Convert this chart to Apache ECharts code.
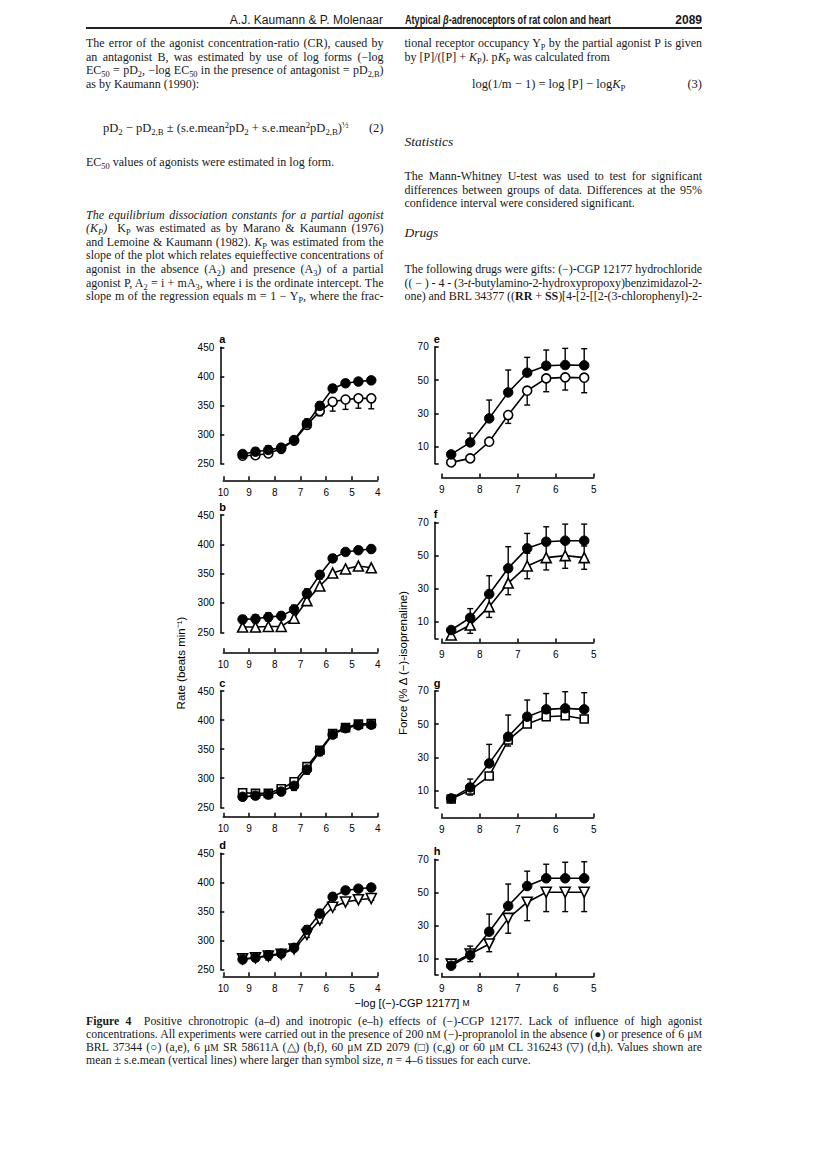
<!DOCTYPE html>
<html><head><meta charset="utf-8">
<script src="https://cdn.jsdelivr.net/npm/echarts@6/dist/echarts.min.js"></script>
<style>
html,body{margin:0;padding:0;background:#fff}
body{width:816px;height:1157px;position:relative;overflow:hidden;color:#181818;font-family:"Liberation Serif","Times New Roman",serif}
#chart{position:absolute;left:0;top:0;width:816px;height:1157px}
.t{position:absolute;white-space:nowrap;font-size:12px;line-height:14px;height:14px}
.cap{font-size:11.8px}
sub{font-size:70%;vertical-align:-0.3em;line-height:0}
sup{font-size:70%;vertical-align:0.45em;line-height:0}
.sc{font-size:80%}
.hd{font-family:"Liberation Sans",Arial,sans-serif;font-size:12px}
.cond{transform:scaleX(0.76);transform-origin:left center}
.rule{position:absolute;left:86px;top:27px;width:616px;height:1.5px;background:#222}
</style></head><body>
<div id="chart"></div>

<div class="t hd" style="right:433px;top:12.5px">A.J. Kaumann &amp; P. Molenaar</div>
<div class="t hd cond" style="left:405px;top:12.5px;font-weight:bold">Atypical <i>β</i>-adrenoceptors of rat colon and heart</div>
<div class="t hd" style="right:114px;top:12.5px;font-weight:bold">2089</div>
<div class="rule"></div>

<div class="t j" data-w="297.5" style="left:86px;top:36px">The error of the agonist concentration-ratio (CR), caused by</div>
<div class="t j" data-w="297.5" style="left:86px;top:49.6px">an antagonist B, was estimated by use of log forms (−log</div>
<div class="t j" data-w="297.5" style="left:86px;top:63.2px">EC<sub>50</sub> = pD<sub>2</sub>, −log EC<sub>50</sub> in the presence of antagonist = pD<sub>2,B</sub>)</div>
<div class="t" style="left:86px;top:76.8px">as by Kaumann (1990):</div>
<div class="t" style="left:103px;top:121px;font-size:12.5px">pD<sub>2</sub> − pD<sub>2,B</sub> ± (s.e.mean<sup>2</sup>pD<sub>2</sub> + s.e.mean<sup>2</sup>pD<sub>2,B</sub>)<sup>½</sup></div>
<div class="t" style="right:432.5px;top:121px;font-size:12.5px">(2)</div>
<div class="t" style="left:86px;top:155px">EC<sub>50</sub> values of agonists were estimated in log form.</div>
<div class="t j" data-w="297.5" style="left:86px;top:207.5px"><i>The equilibrium dissociation constants for a partial agonist</i></div>
<div class="t j" data-w="297.5" style="left:86px;top:221.1px"><i>(K<sub>P</sub>)</i>&nbsp; K<sub>P</sub> was estimated as by Marano &amp; Kaumann (1976)</div>
<div class="t j" data-w="297.5" style="left:86px;top:234.7px">and Lemoine &amp; Kaumann (1982). <i>K</i><sub>P</sub> was estimated from the</div>
<div class="t j" data-w="297.5" style="left:86px;top:248.3px">slope of the plot which relates equieffective concentrations of</div>
<div class="t j" data-w="297.5" style="left:86px;top:261.9px">agonist in the absence (A<sub>2</sub>) and presence (A<sub>3</sub>) of a partial</div>
<div class="t j" data-w="297.5" style="left:86px;top:275.5px">agonist P, A<sub>2</sub> = i + mA<sub>3</sub>, where i is the ordinate intercept. The</div>
<div class="t j" data-w="297.5" style="left:86px;top:289.1px">slope m of the regression equals m = 1 − Y<sub>P</sub>, where the frac-</div>

<div class="t j" data-w="297.5" style="left:404.5px;top:36px">tional receptor occupancy Y<sub>P</sub> by the partial agonist P is given</div>
<div class="t" style="left:404.5px;top:49.6px">by [P]/([P] + <i>K</i><sub>P</sub>). p<i>K</i><sub>P</sub> was calculated from</div>
<div class="t" style="left:472px;top:76.8px;font-size:12.5px">log(1/m − 1) = log [P] − log<i>K</i><sub>P</sub></div>
<div class="t" style="right:114px;top:76.8px;font-size:12.5px">(3)</div>
<div class="t" style="left:404.5px;top:135px;font-size:13.5px"><i>Statistics</i></div>
<div class="t j" data-w="297.5" style="left:404.5px;top:169px">The Mann-Whitney U-test was used to test for significant</div>
<div class="t j" data-w="297.5" style="left:404.5px;top:182.6px">differences between groups of data. Differences at the 95%</div>
<div class="t" style="left:404.5px;top:196.2px">confidence interval were considered significant.</div>
<div class="t" style="left:404.5px;top:226px;font-size:13.5px"><i>Drugs</i></div>
<div class="t j" data-w="297.5" style="left:404.5px;top:261.9px">The following drugs were gifts: (−)-CGP 12177 hydrochloride</div>
<div class="t j" data-w="297.5" style="left:404.5px;top:275.5px">(( − ) - 4 - (3-<i>t</i>-butylamino-2-hydroxypropoxy)benzimidazol-2-</div>
<div class="t j" data-w="297.5" style="left:404.5px;top:289.1px">one) and BRL 34377 ((<b>RR</b> + <b>SS</b>)[4-[2-[[2-(3-chlorophenyl)-2-</div>

<div class="t cap j" data-w="616" style="left:86px;top:1013.7px"><b>Figure 4</b>&nbsp; Positive chronotropic (a–d) and inotropic (e–h) effects of (−)-CGP 12177. Lack of influence of high agonist</div>
<div class="t cap j" data-w="616" style="left:86px;top:1026.7px">concentrations. All experiments were carried out in the presence of 200 n<span class="sc">M</span> (−)-propranolol in the absence (●) or presence of 6 μ<span class="sc">M</span></div>
<div class="t cap j" data-w="616" style="left:86px;top:1039.7px">BRL 37344 (○) (a,e), 6 μ<span class="sc">M</span> SR 58611A (△) (b,f), 60 μ<span class="sc">M</span> ZD 2079 (□) (c,g) or 60 μ<span class="sc">M</span> CL 316243 (▽) (d,h). Values shown are</div>
<div class="t cap" style="left:86px;top:1052.7px">mean ± s.e.mean (vertical lines) where larger than symbol size, <i>n</i> = 4–6 tissues for each curve.</div>

<script>
// ---------- data ----------
const xLeft  = [9.25, 8.75, 8.25, 7.75, 7.25, 6.75, 6.25, 5.75, 5.25, 4.75, 4.25];
const xRight = [8.75, 8.25, 7.75, 7.25, 6.75, 6.25, 5.75, 5.25];
const rateTicks  = [250, 300, 350, 400, 450];
const forceTicks = [10, 30, 50, 70];

// a: control (filled) vs BRL 37344 (open circle)
const ctrlA    = [266, 270, 273, 277, 290, 319, 349, 379, 388, 391, 393];
const ctrlASe  = [5, 6, 7, 6, 6, 7, 7, 6, 5, 4, 5];
const brlA     = [263, 264, 267, 275, 289, 316, 340, 356, 360, 362, 362];
const brlASe   = [4, 5, 5, 4, 5, 6, 8, 16, 17, 17, 18];
// b: control vs SR 58611A (triangle)
const ctrlB    = [272, 273, 276, 278, 289, 316, 348, 376, 387, 390, 392];
const ctrlBSe  = [6, 7, 7, 6, 7, 8, 7, 6, 5, 5, 6];
const srB      = [259, 259, 260, 260, 274, 304, 329, 351, 358, 363, 360];
const srBSe    = [4, 4, 5, 5, 5, 6, 5, 4, 4, 4, 6];
// c: control vs ZD 2079 (square)
const ctrlC    = [268, 270, 272, 277, 287, 315, 346, 375, 386, 391, 392];
const ctrlCSe  = [6, 6, 7, 6, 8, 8, 7, 6, 5, 5, 6];
const zdC      = [275, 274, 274, 282, 294, 320, 348, 377, 387, 393, 394];
const zdCSe    = [4, 4, 4, 4, 5, 5, 5, 4, 4, 4, 4];
// d: control vs CL 316243 (inverted triangle)
const ctrlD    = [267, 270, 274, 277, 287, 318, 346, 375, 386, 389, 391];
const ctrlDSe  = [5, 6, 8, 6, 6, 7, 7, 6, 5, 5, 6];
const clD      = [268, 270, 273, 276, 285, 310, 335, 357, 366, 370, 372];
const clDSe    = [4, 4, 4, 4, 4, 5, 5, 4, 3, 3, 3];
// e: force, control vs BRL 37344
const ctrlE    = [5.4, 12.6, 27, 42.6, 54.4, 58.6, 59, 58.8];
const ctrlESe  = [1.5, 5.6, 11, 13.4, 9.2, 9.4, 10, 10];
const brlE     = [0.6, 3, 13, 29, 43.6, 51, 51.6, 51.4];
const brlESe   = [1, 1.5, 2, 5, 8.6, 8, 7.6, 9];
// f: force, control vs SR 58611A
const ctrlF    = [5.1, 12.5, 26.8, 42.3, 54.3, 58.3, 58.9, 58.9];
const ctrlFSe  = [1.5, 5.5, 11, 13, 9, 9, 10, 10];
const srF      = [2.1, 8.1, 19.2, 33.4, 43.7, 48.7, 49.9, 48.7];
const srFSe    = [1.5, 5, 6.5, 7, 7.7, 7.4, 7.6, 7];
// g: force, control vs ZD 2079
const ctrlG    = [5.4, 12, 26.4, 42.4, 54.4, 58.8, 59.4, 58.8];
const ctrlGSe  = [1.5, 5, 11.4, 13, 10, 9.5, 10, 10];
const zdG      = [5, 10.4, 18.8, 40.4, 50, 54.4, 55, 53];
const zdGSe    = [1, 3, 2, 3.6, 2, 2, 2, 2];
// h: force, control vs CL 316243
const ctrlH    = [5.5, 12, 26.1, 41.7, 53.8, 58.5, 58.5, 58.5];
const ctrlHSe  = [1.5, 5.4, 10.7, 13.3, 9, 8.5, 9.7, 10];
const clH      = [6.5, 12.6, 18.7, 34.2, 44, 50, 50, 50];
const clHSe    = [1.5, 4.6, 4.7, 9, 11.2, 11.7, 11.7, 11.7];

// ---------- layout ----------
const LEFT  = {left: 223.3, width: 154.4, yOff: 3, xs: xLeft, min: 4, max: 10};
const RIGHT = {left: 441.7, width: 152, yOff: 7, xs: xRight, min: 5, max: 9};
const panels = [
  {k:'a', S:LEFT,  top:347.3, h:116,   xOff:17,  c:ctrlA, cs:ctrlASe, t:brlA, ts:brlASe, sym:'circle',   size:9,  rot:0,   cDir:'both', tDir:'down'},
  {k:'b', S:LEFT,  top:515,   h:117.3, xOff:20,  c:ctrlB, cs:ctrlBSe, t:srB,  ts:srBSe,  sym:'triangle', size:10, rot:0,   cDir:'both', tDir:'down'},
  {k:'c', S:LEFT,  top:691,   h:116.3, xOff:9.5, c:ctrlC, cs:ctrlCSe, t:zdC,  ts:zdCSe,  sym:'rect',     size:8,  rot:0,   cDir:'both', tDir:'both'},
  {k:'d', S:LEFT,  top:853.3, h:116,   xOff:7,   c:ctrlD, cs:ctrlDSe, t:clD,  ts:clDSe,  sym:'triangle', size:10, rot:180, cDir:'both', tDir:'both'},
  {k:'e', S:RIGHT, top:346.7, h:116.7, xOff:14,  c:ctrlE, cs:ctrlESe, t:brlE, ts:brlESe, sym:'circle',   size:9,  rot:0,   cDir:'up',   tDir:'down'},
  {k:'f', S:RIGHT, top:522.3, h:116.2, xOff:4,   c:ctrlF, cs:ctrlFSe, t:srF,  ts:srFSe,  sym:'triangle', size:10, rot:0,   cDir:'up',   tDir:'both'},
  {k:'g', S:RIGHT, top:690.7, h:116.7, xOff:10,  c:ctrlG, cs:ctrlGSe, t:zdG,  ts:zdGSe,  sym:'rect',     size:8,  rot:0,   cDir:'up',   tDir:'down'},
  {k:'h', S:RIGHT, top:859.3, h:115.5, xOff:2,   c:ctrlH, cs:ctrlHSe, t:clH,  ts:clHSe,  sym:'triangle', size:10, rot:180, cDir:'up',   tDir:'down'}
];

const INK = '#000';
const lab = {fontFamily:'Liberation Sans, Arial, sans-serif', fontSize:10, color:INK};

function errSeries(gi, xs, ys, se, dir) {
  return {
    type:'custom', xAxisIndex:gi, yAxisIndex:gi, z:1, silent:true, clip:false,
    encode:{x:0, y:1},
    data: xs.map((x,i)=>[x, ys[i], se[i]]),
    renderItem:(params, api)=>{
      const x = api.value(0), y = api.value(1), e = api.value(2);
      const lo = dir==='up' ? y : y - e;
      const hi = dir==='down' ? y : y + e;
      const p1 = api.coord([x, lo]), p2 = api.coord([x, hi]);
      const st = {stroke:INK, lineWidth:1.4};
      const ch = [{type:'line', shape:{x1:p1[0], y1:p1[1], x2:p2[0], y2:p2[1]}, style:st}];
      if (dir!=='up')   ch.push({type:'line', shape:{x1:p1[0]-3, y1:p1[1], x2:p1[0]+3, y2:p1[1]}, style:st});
      if (dir!=='down') ch.push({type:'line', shape:{x1:p2[0]-3, y1:p2[1], x2:p2[0]+3, y2:p2[1]}, style:st});
      return {type:'group', children:ch};
    }
  };
}

const option = {animation:false, grid:[], xAxis:[], yAxis:[], series:[], graphic:[]};
panels.forEach((p, i)=>{
  const S = p.S, isL = S===LEFT;
  option.grid.push({left:S.left, top:p.top, width:S.width, height:p.h});
  option.xAxis.push({
    type:'value', gridIndex:i, min:S.min, max:S.max, interval:1, inverse:true, offset:p.xOff,
    axisLine:{show:true, onZero:false, lineStyle:{color:INK, width:1.5}},
    axisTick:{show:true, inside:true, length:4, lineStyle:{color:INK, width:1.5}},
    axisLabel:Object.assign({margin:7}, lab), splitLine:{show:false}
  });
  const y = {
    type:'value', gridIndex:i, offset:S.yOff,
    axisLine:{show:true, onZero:false, lineStyle:{color:INK, width:1.5}},
    axisTick:{show:true, inside:true, length:4, lineStyle:{color:INK, width:1.5}},
    axisLabel:Object.assign({margin:6}, lab), splitLine:{show:false}
  };
  if (isL) { y.min = rateTicks[0]; y.max = rateTicks[rateTicks.length-1]; y.interval = 50; }
  else {
    y.min = 0; y.max = forceTicks[forceTicks.length-1];
    y.axisLabel.customValues = forceTicks;
    y.axisTick.customValues = [0].concat(forceTicks);
  }
  option.yAxis.push(y);

  option.series.push(errSeries(i, S.xs, p.t, p.ts, p.tDir));
  option.series.push(errSeries(i, S.xs, p.c, p.cs, p.cDir));
  option.series.push({
    type:'line', xAxisIndex:i, yAxisIndex:i, z:2, silent:true,
    data:S.xs.map((x,j)=>[x, p.t[j]]),
    symbol:p.sym, symbolSize:p.size, symbolRotate:p.rot, showAllSymbol:true,
    lineStyle:{color:INK, width:1.6},
    itemStyle:{color:'#fff', borderColor:INK, borderWidth:1.6},
    emphasis:{disabled:true}
  });
  option.series.push({
    type:'line', xAxisIndex:i, yAxisIndex:i, z:3, silent:true,
    data:S.xs.map((x,j)=>[x, p.c[j]]),
    symbol:'circle', symbolSize:9.5, showAllSymbol:true,
    lineStyle:{color:INK, width:1.6},
    itemStyle:{color:INK, borderColor:INK, borderWidth:1},
    emphasis:{disabled:true}
  });
  option.graphic.push({
    type:'text', x:S.left - S.yOff - 1, y:p.top - 8,
    style:{text:p.k, fill:INK, font:'bold 11px "Liberation Sans", Arial, sans-serif',
           align:'left', verticalAlign:'middle', textAlign:'left', textVerticalAlign:'middle'}
  });
});

option.graphic.push({
  type:'text', x:181, y:663, rotation:Math.PI/2,
  style:{text:'Rate (beats min⁻¹)', fill:INK, font:'11.5px "Liberation Sans", Arial, sans-serif',
         align:'center', verticalAlign:'middle', textAlign:'center', textVerticalAlign:'middle'}
});
option.graphic.push({
  type:'text', x:403, y:663, rotation:Math.PI/2,
  style:{text:'Force (% Δ (−)-isoprenaline)', fill:INK, font:'11.5px "Liberation Sans", Arial, sans-serif',
         align:'center', verticalAlign:'middle', textAlign:'center', textVerticalAlign:'middle'}
});
option.graphic.push({
  type:'text', x:412, y:1003,
  style:{text:'{a|−log [(−)-CGP 12177] }{b|M}', fill:INK,
         rich:{a:{fontSize:11, fontFamily:'Liberation Sans', color:INK}, b:{fontSize:8.5, fontFamily:'Liberation Sans', color:INK}},
         align:'center', verticalAlign:'middle', textAlign:'center', textVerticalAlign:'middle'}
});

const chart = echarts.init(document.getElementById('chart'), null, {renderer:'svg', width:816, height:1157});
chart.setOption(option);

// justify full lines: stretch word spacing, or tighten letters if too long
function justify(){
  document.querySelectorAll('.j').forEach(el=>{
    const W = +el.dataset.w;
    el.style.wordSpacing = '0px';
    el.style.letterSpacing = '0px';
    const w = el.getBoundingClientRect().width;
    const txt = el.textContent;
    const n = (txt.match(/[ \u00a0]/g) || []).length;
    if (w <= W) {
      if (n > 0) el.style.wordSpacing = ((W - w) / n) + 'px';
    } else {
      el.style.letterSpacing = ((W - w) / txt.length) + 'px';
    }
  });
}
justify();
if (document.fonts && document.fonts.ready) document.fonts.ready.then(justify);
</script>
</body></html>
